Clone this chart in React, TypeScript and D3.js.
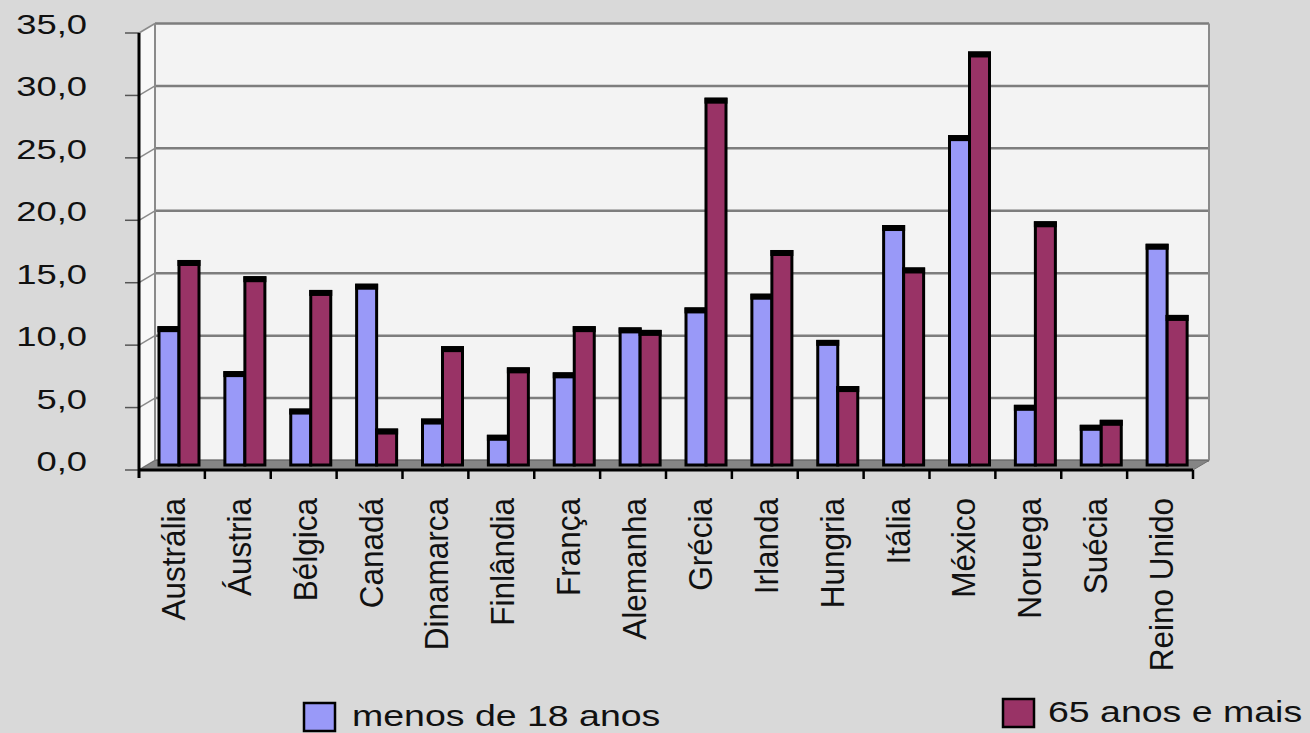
import React from "react";
import * as d3 from "d3";

const categories = [
  "Austrália", "Áustria", "Bélgica", "Canadá", "Dinamarca", "Finlândia", "França", "Alemanha",
  "Grécia", "Irlanda", "Hungria", "Itália", "México", "Noruega", "Suécia", "Reino Unido",
];
const seriesNames = ["menos de 18 anos", "65 anos e mais"];
const under18 = [11.0, 7.4, 4.4, 14.4, 3.6, 2.3, 7.3, 10.9, 12.5, 13.6, 9.9, 19.1, 26.3, 4.7, 3.1, 17.6];
const over65 = [16.3, 15.0, 13.9, 2.8, 9.4, 7.7, 11.0, 10.7, 29.3, 17.1, 6.2, 15.7, 33.0, 19.4, 3.5, 11.9];
const yTicks = [0, 5, 10, 15, 20, 25, 30, 35];

const W = 1310, H = 733;
const X0 = 139, X1 = 1193;
const DX = 16, DY = -9.5;
const colors = ["#9999f8", "#993366"];

export default function App() {
  const y = d3.scaleLinear().domain([0, 35]).range([470, 33]);
  const x = d3.scaleBand<string>().domain(categories).range([X0, X1]).padding(0);
  const xs = d3.scaleBand<number>().domain([0, 1]).range([20, 60]).padding(0);
  const fmt = (v: number) => d3.format(".1f")(v).replace(".", ",");
  const barBase = y(0) - 5;
  const series = [under18, over65];
  const bw = xs.bandwidth();

  const backTop = y(35) + DY;
  const backBottom = y(0) + DY;

  return (
    <svg width={W} height={H} style={{ position: "absolute", left: 0, top: 0, display: "block" }}
      fontFamily="'Liberation Sans', Arial, sans-serif">
      <rect x={0} y={0} width={W} height={H} fill="#d9d9d9" />
      {/* left wall */}
      <polygon points={`${X0},${y(35)} ${X0 + DX},${backTop} ${X0 + DX},${backBottom} ${X0},${y(0)}`} fill="#f8f8f8" />
      {/* back wall */}
      <rect x={X0 + DX} y={backTop} width={X1 - X0} height={backBottom - backTop} fill="#f3f3f3" />
      {/* gridlines */}
      {yTicks.map((t) => (
        <g key={t}>
          <line x1={X0 + DX} x2={X1 + DX} y1={y(t) + DY} y2={y(t) + DY} stroke="#7d7d7d" strokeWidth={2.5} />
          <line x1={X0} x2={X0 + DX} y1={y(t)} y2={y(t) + DY} stroke="#8a8a8a" strokeWidth={1.5} />
          <line x1={125} x2={X0} y1={y(t)} y2={y(t)} stroke="#555" strokeWidth={1.5} />
          <text x={87} y={y(t) + 1} fontSize={28} textAnchor="end" fill="#111"
            transform={`translate(87,0) scale(1.3,1) translate(-87,0)`}>{fmt(t)}</text>
        </g>
      ))}
      <line x1={X0 + DX} x2={X0 + DX} y1={backTop} y2={backBottom} stroke="#8a8a8a" strokeWidth={2} />
      <line x1={X1 + DX} x2={X1 + DX} y1={backTop} y2={backBottom} stroke="#8a8a8a" strokeWidth={2} />
      {/* floor */}
      <polygon points={`${X0},${y(0)} ${X0 + DX},${backBottom} ${X1 + DX},${backBottom} ${X1},${y(0)}`} fill="#858585" stroke="#6f6f6f" strokeWidth={1} />
      {/* bars */}
      {categories.map((c, i) => (
        <g key={c}>
          {series.map((s, k) => {
            const bx = (x(c) as number) + (xs(k) as number);
            const top = barBase - (y(0) - y(s[i]));
            return (
              <g key={k}>
                <rect x={bx} y={top} width={bw} height={barBase - top} fill={colors[k]} stroke="#000" strokeWidth={3} />
                <rect x={bx - 1.5} y={top - 1.5} width={bw + 3} height={6} fill="#000" />
              </g>
            );
          })}
        </g>
      ))}
      {/* axes */}
      <line x1={X0} x2={X0} y1={y(35)} y2={y(0) + 8} stroke="#000" strokeWidth={3} />
      <line x1={X0} x2={X1} y1={y(0)} y2={y(0)} stroke="#000" strokeWidth={3} />
      {categories.map((c) => (
        <line key={"t" + c} x1={(x(c) as number) + x.bandwidth()} x2={(x(c) as number) + x.bandwidth()}
          y1={y(0)} y2={y(0) + 9} stroke="#000" strokeWidth={2.5} />
      ))}
      {categories.map((c) => {
        const cx = (x(c) as number) + x.bandwidth() / 2 + 13;
        return (
          <text key={"l" + c} transform={`translate(${cx},498) scale(1.05,1) rotate(-90)`} fontSize={31.5}
            textAnchor="end" fill="#111">{c}</text>
        );
      })}
      {/* legend */}
      <rect x={304} y={703} width={31} height={28} fill={colors[0]} stroke="#000" strokeWidth={2.5} />
      <text x={352} y={726} fontSize={30} fill="#111" transform="translate(352,0) scale(1.25,1) translate(-352,0)">{seriesNames[0]}</text>
      <rect x={1003} y={699} width={31} height={28} fill={colors[1]} stroke="#000" strokeWidth={2.5} />
      <text x={1048} y={722} fontSize={30} fill="#111" transform="translate(1048,0) scale(1.25,1) translate(-1048,0)">{seriesNames[1]}</text>
    </svg>
  );
}
